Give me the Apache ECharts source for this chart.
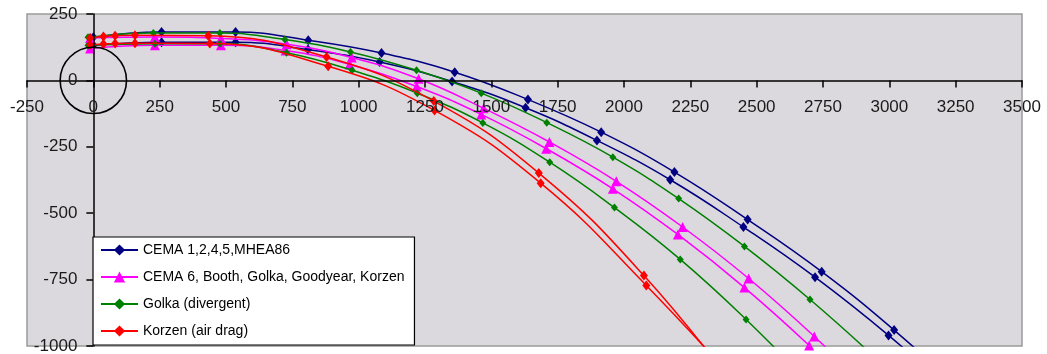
<!DOCTYPE html>
<html>
<head>
<meta charset="utf-8">
<script src="https://cdn.jsdelivr.net/npm/echarts@6/dist/echarts.min.js"></script>
<style>
html,body{margin:0;padding:0;background:#fff;}
#chart{width:1047px;height:354px;}
</style>
</head>
<body>
<div id="chart"></div>
<script>
// ---- Data ----
const seriesNames = ['CEMA 1,2,4,5,MHEA86', 'CEMA 6, Booth, Golka, Goodyear, Korzen', 'Golka (divergent)', 'Korzen (air drag)'];

// CEMA 1,2,4,5,MHEA86 (two trajectories)
const blueUpperX = [0, 257, 536, 810, 1086, 1362, 1638, 1914, 2190, 2466, 2745, 3018, 3290];
const blueUpperY = [162, 182, 182, 151, 103, 31, -72, -195, -345, -524, -720, -940, -1185];
const blueLowerX = [0, 257, 536, 809, 1079, 1352, 1629, 1898, 2174, 2450, 2720, 2997, 3270];
const blueLowerY = [132, 144, 144, 116, 69, -4, -103, -226, -374, -552, -741, -960, -1200];

// CEMA 6, Booth, Golka, Goodyear, Korzen
const magUpperX = [-12, 232, 481, 729, 974, 1226, 1471, 1719, 1971, 2221, 2470, 2717, 2966];
const magUpperY = [160, 163, 158, 136, 86, 6, -105, -232, -380, -552, -746, -964, -1205];
const magLowerX = [-12, 232, 481, 725, 966, 1219, 1462, 1707, 1958, 2203, 2454, 2698, 2943];
const magLowerY = [120, 132, 132, 113, 60, -23, -128, -257, -408, -580, -780, -998, -1238];

// Golka (divergent)
const greenUpperX = [-20, 226, 477, 722, 969, 1218, 1462, 1709, 1958, 2206, 2454, 2701, 2948];
const greenUpperY = [162, 178, 178, 154, 107, 38, -48, -159, -289, -445, -625, -825, -1045];
const greenLowerX = [-20, 232, 477, 728, 975, 1221, 1468, 1720, 1964, 2212, 2460, 2708];
const greenLowerY = [132, 138, 138, 104, 38, -48, -160, -308, -479, -674, -900, -1150];

// Korzen (air drag)
const redUpperX = [-12, 38, 82, 157, 433, 879, 1283, 1679, 2075, 2470];
const redUpperY = [160, 165, 168, 170, 168, 88, -78, -349, -735, -1220];
const redLowerX = [-12, 38, 82, 157, 439, 885, 1286, 1686, 2084, 2480];
const redLowerY = [134, 137, 139, 140, 139, 53, -113, -387, -772, -1200];

// Pulley circle (centre and radius in axis units)
const circleCenter = [0, 0];
const circleRadius = 125;

// Axis ticks
const xMin = -250, xMax = 3500, xStep = 250;
const yMin = -1000, yMax = 250, yStep = 250;

// ---- Chart ----
function pairs(xs, ys) { return xs.map((x, i) => [x, ys[i]]); }

const W = 1047, H = 354;
const gridL = 27, gridR = 25, gridT = 14, gridB = 8;
const plotW = W - gridL - gridR, plotH = H - gridT - gridB;
// offsets that put the axes through the origin (axes cross at 0)
const yAxisOffset = -plotW * (0 - xMin) / (xMax - xMin);
const xAxisOffset = -plotH * (0 - yMin) / (yMax - yMin);

const colors = ['#000080', '#FF00FF', '#008000', '#FF0000'];
const symbols = ['diamond', 'triangle', 'diamond', 'diamond'];
const symbolSizes = [[8, 10], [10, 10], [7, 8], [8, 10]];
const curves = [
  [0, blueUpperX, blueUpperY], [0, blueLowerX, blueLowerY],
  [1, magUpperX, magUpperY], [1, magLowerX, magLowerY],
  [2, greenUpperX, greenUpperY], [2, greenLowerX, greenLowerY],
  [3, redUpperX, redUpperY], [3, redLowerX, redLowerY]
];

const font = 'Liberation Sans, Arial, sans-serif';

const series = curves.map(([k, xs, ys]) => ({
  name: seriesNames[k],
  type: 'line',
  data: pairs(xs, ys),
  smooth: 0.45,
  clip: true,
  symbol: symbols[k],
  symbolSize: symbolSizes[k],
  showAllSymbol: true,
  lineStyle: { color: colors[k], width: 1.5 },
  itemStyle: { color: colors[k] },
  emphasis: { disabled: true },
  animation: false,
  z: 3 + k
}));

series.push({
  type: 'custom',
  name: 'pulley',
  data: [[circleCenter[0], circleCenter[1], circleRadius]],
  silent: true,
  animation: false,
  z: 10,
  clip: false,
  renderItem: function (params, api) {
    const c = api.coord([api.value(0), api.value(1)]);
    const r = api.size([api.value(2), 0])[0];
    return {
      type: 'circle',
      shape: { cx: c[0], cy: c[1], r: r },
      style: { fill: 'none', stroke: '#000', lineWidth: 1.6 }
    };
  }
});

const axisCommon = {
  type: 'value',
  axisLine: { onZero: false, lineStyle: { color: '#000', width: 1.5 } },
  axisTick: { show: true, length: 7, lineStyle: { color: '#000', width: 1.5 } },
  axisLabel: {
    fontFamily: font, fontSize: 17, color: '#1a1a1a',
    showMinLabel: true, showMaxLabel: true, hideOverlap: false,
    formatter: function (v) { return String(v); }
  },
  splitLine: { show: false },
  z: 20
};

const chart = echarts.init(document.getElementById('chart'), null, { renderer: 'canvas' });
chart.setOption({
  animation: false,
  backgroundColor: '#ffffff',
  grid: {
    left: gridL, right: gridR, top: gridT, bottom: gridB,
    containLabel: false,
    outerBoundsMode: 'none',
    show: true,
    backgroundColor: '#DCD9DE',
    borderColor: '#9a9a9a',
    borderWidth: 1.5
  },
  legend: {
    data: seriesNames,
    orient: 'vertical',
    left: 93, top: 237,
    padding: [6, 10, 7, 7],
    itemWidth: 37, itemHeight: 14, itemGap: 13,
    backgroundColor: '#ffffff',
    borderColor: '#000',
    borderWidth: 1.2,
    borderRadius: 0,
    selectedMode: false,
    z: 30,
    textStyle: { fontFamily: font, fontSize: 14, color: '#000' }
  },
  xAxis: Object.assign({}, axisCommon, {
    min: xMin, max: xMax, interval: xStep,
    position: 'bottom', offset: xAxisOffset,
    axisLabel: Object.assign({}, axisCommon.axisLabel, { margin: 18 })
  }),
  yAxis: Object.assign({}, axisCommon, {
    min: yMin, max: yMax, interval: yStep,
    position: 'left', offset: yAxisOffset,
    axisLabel: Object.assign({}, axisCommon.axisLabel, { margin: 16 })
  }),
  series: series
});
</script>
</body>
</html>
